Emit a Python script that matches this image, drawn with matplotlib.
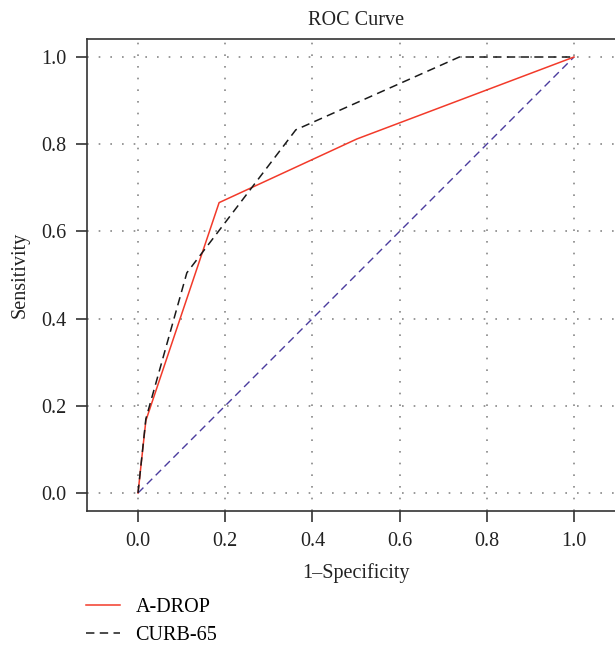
import matplotlib
matplotlib.use("Agg")
import matplotlib.pyplot as plt

# ROC points
adrop_fpr = [0.0, 0.018, 0.186, 0.502, 1.0]
adrop_tpr = [0.0, 0.166, 0.666, 0.812, 1.0]
curb_fpr = [0.0, 0.018, 0.112, 0.362, 0.737, 1.0]
curb_tpr = [0.0, 0.17, 0.505, 0.833, 1.0, 1.0]
chance = [0.0, 1.0]

ticks = [0.0, 0.2, 0.4, 0.6, 0.8, 1.0]
tick_labels = ["0.0", "0.2", "0.4", "0.6", "0.8", "1.0"]

plt.rcParams["font.family"] = ["Liberation Serif", "DejaVu Serif"]
plt.rcParams["font.size"] = 14.5

fig = plt.figure(figsize=(6.15, 6.48), dpi=100)
W, H = 615, 648
ax = fig.add_axes([87 / W, 1 - 511 / H, (625 - 87) / W, (511 - 39) / H])

ax.plot(chance, chance, color="#4B3C9E", lw=1.0, dashes=(5.5, 3.5))
l1, = ax.plot(adrop_fpr, adrop_tpr, color="#F23A2A", lw=1.1, label="A-DROP")
l2, = ax.plot(curb_fpr, curb_tpr, color="#1a1a1a", lw=1.1, dashes=(5.5, 3.5),
              label="CURB-65")

ax.set_xlim(-0.117, 1.117)
ax.set_ylim(-0.0413, 1.0413)
ax.set_xticks(ticks)
ax.set_xticklabels(tick_labels)
ax.set_yticks(ticks)
ax.set_yticklabels(tick_labels)
ax.tick_params(direction="out", length=8, width=1.2, color="#333333",
               labelcolor="#222222", pad=7)
ax.grid(True, color="#888888", linestyle=(0, (1, 6)), linewidth=1.2)

ax.spines["right"].set_visible(False)
for s in ["left", "top", "bottom"]:
    ax.spines[s].set_linewidth(1.2)
    ax.spines[s].set_color("#333333")

ax.set_title("ROC Curve", fontsize=14.5, color="#222222", pad=10)
ax.set_xlabel("1\u2013Specificity", color="#222222", labelpad=9)
ax.set_ylabel("Sensitivity", color="#222222", labelpad=8)

fig.legend(handles=[l1, l2], loc="upper left",
           bbox_to_anchor=(86 / W, 1 - 598 / H), frameon=False,
           borderpad=0, borderaxespad=0, handlelength=1.7,
           handletextpad=0.75, labelspacing=0.45, fontsize=14.5)

fig.savefig("out.png", dpi=100)
